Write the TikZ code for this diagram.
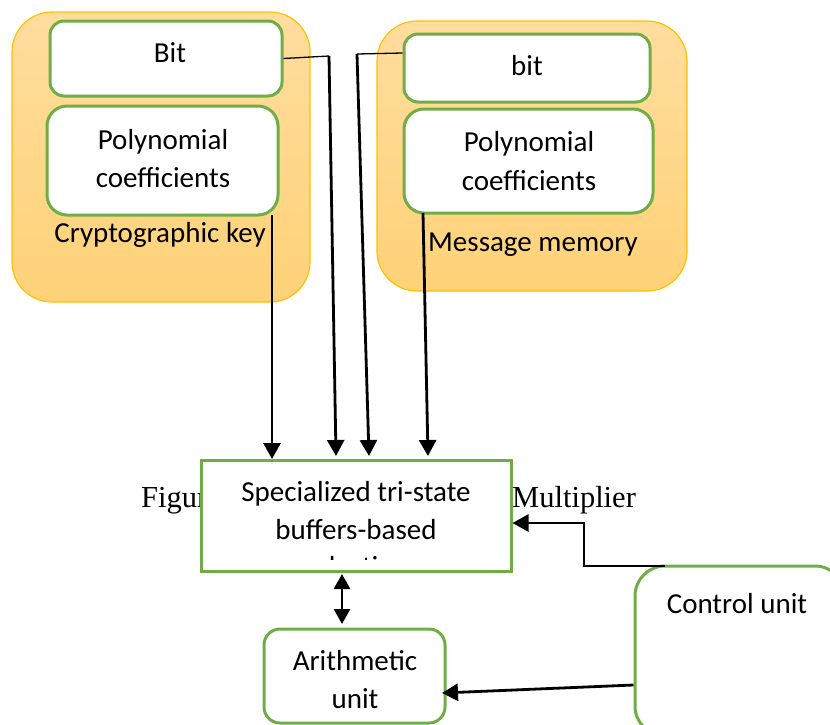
\documentclass[tikz,border=0pt]{standalone}
\usepackage{fontspec}
\setmainfont{Carlito}
\newfontfamily\serifcap{Liberation Serif}
\usetikzlibrary{arrows.meta}
\definecolor{grn}{RGB}{112,173,71}
\definecolor{orBorder}{RGB}{255,192,0}
\definecolor{orTop}{RGB}{255,221,158}
\definecolor{orBot}{RGB}{255,210,120}
\begin{document}
\begin{tikzpicture}[x=1pt,y=-1pt,
  font=\fontsize{29}{38}\selectfont,
  mem/.style={draw=orBorder, line width=1.2pt, top color=orTop, bottom color=orBot,
    rounded corners=40pt, inner sep=0pt},
  gbox/.style={draw=grn, line width=3pt, fill=white, rounded corners=#1, inner sep=0pt},
  gbox/.default=14pt,
  txt/.style={anchor=base, align=center, inner sep=0pt},
  arr/.style={line width=2.8pt, -{Triangle[width=17pt,length=16pt]}},
  thinln/.style={line width=1.3pt},
  dbl/.style={line width=2.8pt, {Triangle[width=16pt,length=15pt]}-{Triangle[width=16pt,length=15pt]}}]
\useasboundingbox (0,0) rectangle (830,724);

% memories
\node[mem, minimum width=298pt, minimum height=290pt] (keymem) at (161,157) {};
\node[mem, minimum width=310pt, minimum height=270pt] (msgmem) at (532,156) {};

% inner boxes
\node[gbox, minimum width=232pt, minimum height=75pt] (lbit) at (166,58.5) {};
\node[gbox=20pt, minimum width=231pt, minimum height=109pt] (lpoly) at (162.5,160.5) {};
\node[gbox, minimum width=246pt, minimum height=68pt] (rbit) at (527,68) {};
\node[gbox=20pt, minimum width=249pt, minimum height=104pt] (rpoly) at (528.5,161) {};

\node[txt] (tlbit) at (170,62) {Bit};
\node[txt] (tlpoly) at (163,187) {Polynomial\\coefficients};
\node[txt] (tkey) at (160,242) {Cryptographic key};
\node[txt] (trbit) at (527,75) {bit};
\node[txt] (trpoly) at (529,190) {Polynomial\\[1pt]coefficients};
\node[txt] (tmsg) at (533,251) {Message memory};

% caption partly hidden behind the selection box
\node[anchor=base west, inner sep=0pt, font=\serifcap\fontsize{30.5}{34}\selectfont] (capl) at (141,507) {Figure};
\node[anchor=base west, inner sep=0pt, font=\serifcap\fontsize{30.5}{34}\selectfont] (capr) at (512,507) {Multiplier};

% selection box
\node[draw=grn, line width=3pt, fill=white, inner sep=0pt,
  minimum width=310pt, minimum height=111pt] (sel) at (356,515.5) {};
\begin{scope}
  \clip (203,462) rectangle (509,559);
  \node[txt] (tsel) at (356,576) {Specialized tri-state\\[0pt]buffers-based\\[-1pt]selection};
\end{scope}

% arithmetic and control
\node[gbox=16pt, minimum width=181pt, minimum height=94pt] (arith) at (354.5,676) {};
\node[txt] (tarith) at (355,708) {Arithmetic\\unit};
\node[gbox=30pt, minimum width=210pt, minimum height=170pt] (ctrl) at (740,651) {};
\node[txt] (tctrl) at (737,613) {Control unit};

% connectors from memories
\coordinate (lb) at (329,56);
\coordinate (rb) at (357,54);
\draw[thinln] (lbit.east) -- (lb);
\draw[thinln] (rbit.west |- 0,53) -- (rb);
\draw[arr] (lb) -- (336,456);
\draw[arr] (rb) -- (369,456);
\draw[arr] (272,215) -- (272,459);
\draw[arr] (423,213) -- (428,456);

% control to selection
\coordinate (c1) at (665,566);
\coordinate (c2) at (584,566);
\coordinate (c3) at (584,523);
\draw[arr] (c1) -- (c2) -- (c3) -- (sel.east |- c3);

% control to arithmetic
\draw[arr] (ctrl.west |- 0,685) -- (442,693);

% selection <-> arithmetic
\draw[dbl] (342,574) -- (342,624);
\end{tikzpicture}
\end{document}
